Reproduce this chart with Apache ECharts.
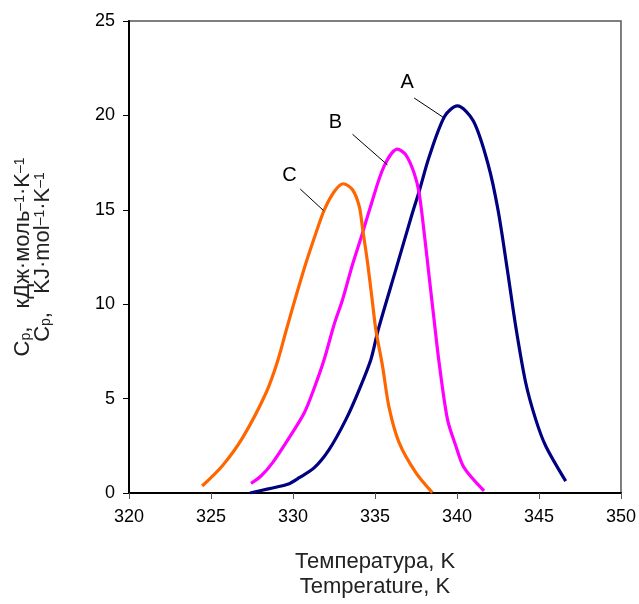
<!DOCTYPE html>
<html>
<head>
<meta charset="utf-8">
<script src="https://cdn.jsdelivr.net/npm/echarts@6/dist/echarts.min.js"></script>
<style>
  html, body { margin: 0; padding: 0; background: #fff; }
  #chart { width: 639px; height: 604px; }
</style>
</head>
<body>
<div id="chart"></div>
<script>
// Heat capacity peaks A, B, C
const tempA = [327.38, 328.56, 329.67, 330.38, 331.3, 332.21, 333.23, 334.04, 334.75, 335.2, 336.27, 337.28, 337.7, 338.3, 339.25, 340.02, 341.0, 341.9, 342.5, 343.07, 343.58, 344.19, 344.8, 345.41, 346.63];
const cpA   = [0, 0.23, 0.46, 0.81, 1.34, 2.31, 3.9, 5.48, 7.07, 8.66, 11.83, 14.83, 16.0, 17.8, 19.95, 20.5, 19.7, 17.4, 15.0, 11.83, 8.83, 5.84, 3.9, 2.49, 0.63];

const tempB = [327.44, 328.05, 328.76, 329.77, 330.69, 331.3, 331.9, 332.5, 333.02, 333.63, 334.24, 334.7, 335.55, 336.37, 336.88, 337.39, 337.69, 338.05, 338.3, 338.6, 338.91, 339.42, 339.93, 340.43, 341.65];
const cpB   = [0.51, 0.9, 1.61, 2.93, 4.25, 5.57, 7.07, 8.9, 10.24, 12.1, 13.77, 15.1, 17.3, 18.21, 17.91, 16.94, 15.9, 13.4, 11.48, 9.2, 6.9, 3.9, 2.49, 1.34, 0.11];

const tempC = [324.46, 325.71, 326.93, 328.36, 329.06, 329.6, 330.18, 330.79, 331.4, 331.91, 332.52, 333.06, 333.63, 334.04, 334.24, 334.55, 334.85, 335.05, 335.46, 335.86, 336.47, 337.49, 338.5];
const cpC   = [0.37, 1.46, 2.93, 5.31, 6.98, 8.66, 10.42, 12.18, 13.77, 15.0, 15.97, 16.38, 16.06, 15.18, 14.03, 12.18, 10.07, 8.66, 6.72, 4.52, 2.67, 1.08, 0.02];

// curve labels and their leader lines (data coordinates)
const labelNames = ['A', 'B', 'C'];
const labelPos   = [[336.96, 21.76], [332.58, 19.65], [329.78, 16.8]];
const leaderFrom = [[337.39, 20.92], [333.63, 19.0], [330.44, 16.1]];
const leaderTo   = [[339.21, 19.87], [335.76, 17.38], [331.85, 14.97]];

const colors = ['#000080', '#ff00ff', '#ff6600'];

function zip(xs, ys) {
    return xs.map((x, i) => [x, ys[i]]);
}

function curve(name, xs, ys, color, idx) {
    return {
        name: name,
        type: 'line',
        data: zip(xs, ys),
        smooth: 0.3,
        showSymbol: false,
        lineStyle: { color: color, width: 3.2 },
        z: 3,
        markLine: {
            silent: true,
            symbol: ['none', 'none'],
            label: { show: false },
            lineStyle: { color: '#000', width: 1, type: 'solid' },
            data: [[{ coord: leaderFrom[idx] }, { coord: leaderTo[idx] }]]
        },
        markPoint: {
            silent: true,
            symbol: 'circle',
            symbolSize: 0,
            label: {
                show: true,
                formatter: labelNames[idx],
                color: '#000',
                fontSize: 20,
                fontFamily: 'Liberation Sans'
            },
            data: [{ coord: labelPos[idx] }]
        }
    };
}

const chart = echarts.init(document.getElementById('chart'));

// y title with sub/superscripts as rich text
const yName = '{n|C}{sub|p}{n|,   кДж·моль}{sup|–1}{n|·K}{sup|–1}\n' +
              '{n|C}{sub|p}{n|,   KJ·mol}{sup|–1}{n|·K}{sup|–1}';

const option = {
    backgroundColor: '#fff',
    animation: false,
    textStyle: { fontFamily: 'Liberation Sans' },
    grid: {
        left: 129, right: 17, top: 21, bottom: 110,
        show: true,
        borderColor: '#555',
        borderWidth: 1.5
    },
    xAxis: {
        type: 'value',
        min: 320, max: 350, interval: 5,
        name: 'Температура, K\nTemperature, K',
        nameLocation: 'middle',
        nameGap: 56,
        nameTextStyle: { fontSize: 22, color: '#222', lineHeight: 25 },
        axisLine: { onZero: false, lineStyle: { color: '#000', width: 2 } },
        axisTick: { inside: false, length: 6, lineStyle: { color: '#555', width: 1 } },
        axisLabel: { fontSize: 18, color: '#000', margin: 15 },
        splitLine: { show: false }
    },
    yAxis: {
        type: 'value',
        min: 0, max: 25, interval: 5,
        name: yName,
        nameLocation: 'middle',
        nameGap: 76,
        nameRotate: 90,
        nameTextStyle: {
            fontSize: 22, color: '#222', lineHeight: 20,
            rich: {
                n: { fontSize: 22, color: '#222', lineHeight: 20 },
                sub: { fontSize: 14, color: '#222', lineHeight: 20, verticalAlign: 'bottom' },
                sup: { fontSize: 14, color: '#222', lineHeight: 20, verticalAlign: 'top' }
            }
        },
        axisLine: { show: true, lineStyle: { color: '#000', width: 2 } },
        axisTick: { show: true, inside: false, length: 6, lineStyle: { color: '#000', width: 1 } },
        axisLabel: { fontSize: 18, color: '#000', margin: 14 },
        splitLine: { show: false }
    },
    series: [
        curve('A', tempA, cpA, colors[0], 0),
        curve('B', tempB, cpB, colors[1], 1),
        curve('C', tempC, cpC, colors[2], 2)
    ]
};

chart.setOption(option);
</script>
</body>
</html>
